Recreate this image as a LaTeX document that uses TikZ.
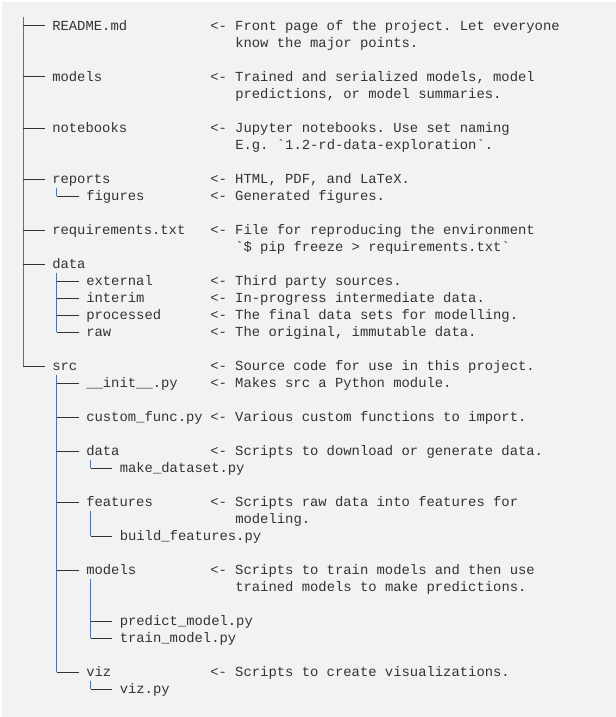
\documentclass[tikz,border=0pt]{standalone}
\usepackage{fontspec}
\setmonofont{Liberation Mono}
\usetikzlibrary{calc}
\definecolor{bgcol}{HTML}{F2F2F2}
\definecolor{txtcol}{HTML}{333333}
\definecolor{vcol}{HTML}{4F73A6}
\tikzset{
	entry/.style={anchor=west, inner xsep=5.625pt, inner ysep=0pt, text height=8.25pt, text depth=2.05pt,
		font=\ttfamily\fontsize{10.4pt}{12pt}\selectfont, text=txtcol},
	desc/.style={entry, inner xsep=0pt},
	hline/.style={txtcol, line width=0.75pt},
	vline/.style={vcol, line width=0.75pt}
}
\frenchspacing
\begin{document}
\begin{tikzpicture}[x=0.75pt,y=-0.75pt]
	\useasboundingbox (0,0) rectangle (616,717);
	\fill[white] (0,0) rectangle (616,717);
	\fill[bgcol] (2,2) rectangle (616,717);
	% top level
	\node[entry] (readme) at (44.5,26) {README.md};
	\node[entry] (models) at (44.5,77) {models};
	\node[entry] (notebooks) at (44.5,128) {notebooks};
	\node[entry] (reports) at (44.5,179) {reports};
	\node[entry] (req) at (44.5,230) {requirements.txt};
	\node[entry] (data) at (44.5,264) {data};
	\node[entry] (src) at (44.5,366) {src};
	% second level
	\node[entry] (figures) at (78.5,196) {figures};
	\node[entry] (external) at (78.5,281) {external};
	\node[entry] (interim) at (78.5,298) {interim};
	\node[entry] (processed) at (78.5,315) {processed};
	\node[entry] (raw) at (78.5,332) {raw};
	\node[entry] (init) at (78.5,383) {\_\_init\_\_.py};
	\node[entry] (custom) at (78.5,417) {custom\_func.py};
	\node[entry] (srcdata) at (78.5,451) {data};
	\node[entry] (features) at (78.5,502) {features};
	\node[entry] (srcmodels) at (78.5,570) {models};
	\node[entry] (viz) at (78.5,672) {viz};
	% third level
	\node[entry] (makedata) at (112,468) {make\_dataset.py};
	\node[entry] (buildfeat) at (112,536) {build\_features.py};
	\node[entry] (predict) at (112,621) {predict\_model.py};
	\node[entry] (train) at (112,638) {train\_model.py};
	\node[entry] (vizpy) at (112,689) {viz.py};
	% descriptions
	\node[desc] (readme-d) at (210,26) {<- Front page of the project. Let everyone};
	\node[desc] (readme-d2) at (235,43) {know the major points.};
	\node[desc] (models-d) at (210,77) {<- Trained and serialized models, model};
	\node[desc] (models-d2) at (235,94) {predictions, or model summaries.};
	\node[desc] (notebooks-d) at (210,128) {<- Jupyter notebooks. Use set naming};
	\node[desc] (notebooks-d2) at (235,145) {E.g. `1.2-rd-data-exploration`.};
	\node[desc] (reports-d) at (210,179) {<- HTML, PDF, and LaTeX.};
	\node[desc] (figures-d) at (210,196) {<- Generated figures.};
	\node[desc] (req-d) at (210,230) {<- File for reproducing the environment};
	\node[desc] (req-d2) at (235,247) {`\$ pip freeze > requirements.txt`};
	\node[desc] (external-d) at (210,281) {<- Third party sources.};
	\node[desc] (interim-d) at (210,298) {<- In-progress intermediate data.};
	\node[desc] (processed-d) at (210,315) {<- The final data sets for modelling.};
	\node[desc] (raw-d) at (210,332) {<- The original, immutable data.};
	\node[desc] (src-d) at (210,366) {<- Source code for use in this project.};
	\node[desc] (init-d) at (210,383) {<- Makes src a Python module.};
	\node[desc] (custom-d) at (210,417) {<- Various custom functions to import.};
	\node[desc] (srcdata-d) at (210,451) {<- Scripts to download or generate data.};
	\node[desc] (features-d) at (210,502) {<- Scripts raw data into features for};
	\node[desc] (features-d2) at (235,519) {modeling.};
	\node[desc] (srcmodels-d) at (210,570) {<- Scripts to train models and then use};
	\node[desc] (srcmodels-d2) at (235,587) {trained models to make predictions.};
	\node[desc] (viz-d) at (210,672) {<- Scripts to create visualizations.};
	% tree lines
	\coordinate (root) at (23,17.5);
	\draw[vline] (root) -- (root |- src.west);
	\foreach \n in {readme,models,notebooks,reports,req,data,src}
		\draw[hline] (root |- \n.west) -- (\n.west);
	\foreach \p/\last/\kids in {reports/figures/{figures}, data/raw/{external,interim,processed,raw},
		src/viz/{init,custom,srcdata,features,srcmodels,viz}, srcdata/makedata/{makedata},
		features/buildfeat/{buildfeat}, srcmodels/train/{predict,train}, viz/vizpy/{vizpy}} {
		\coordinate (\p-v) at ($(\p.west)+(12,8.5)$);
		\draw[vline] (\p-v) -- (\p-v |- \last.west);
		\foreach \k in \kids
			\draw[hline] (\p-v |- \k.west) -- (\k.west);
	}
\end{tikzpicture}
\end{document}
